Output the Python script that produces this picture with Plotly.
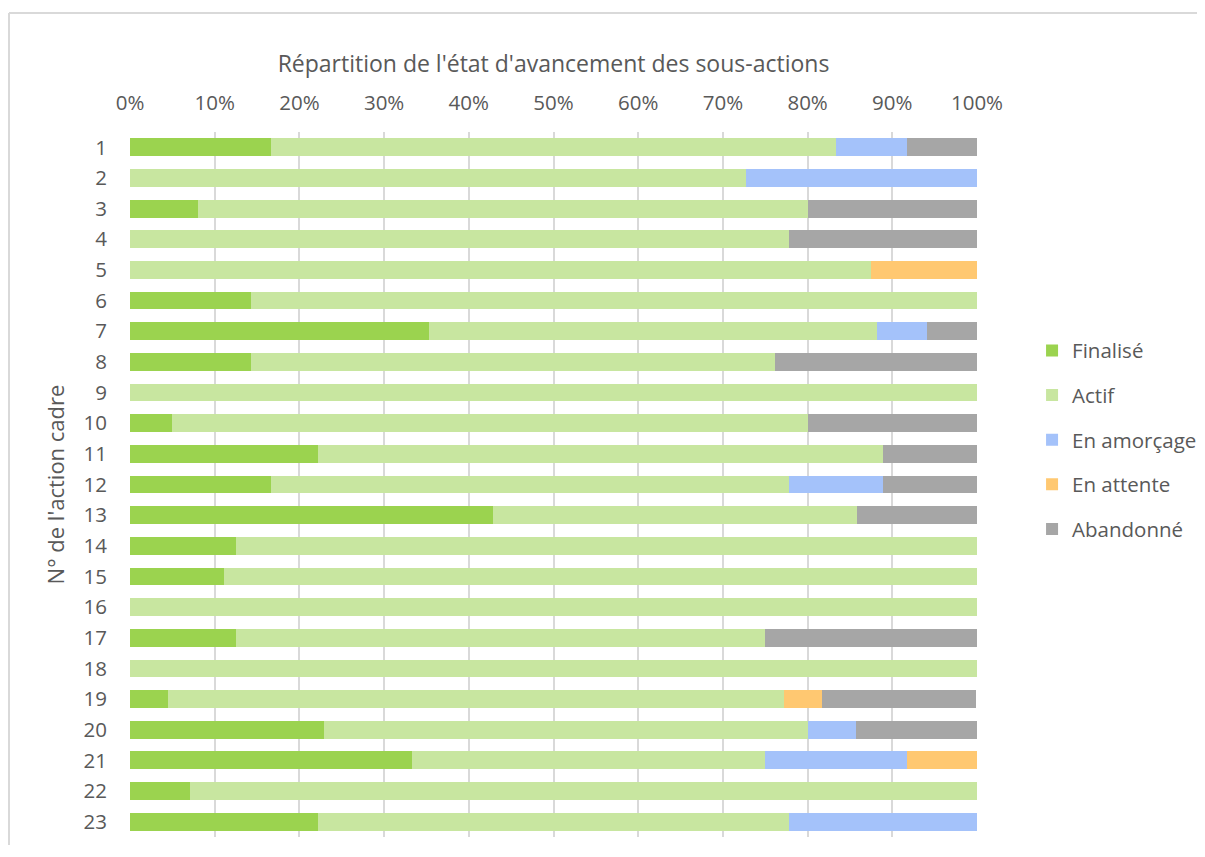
import plotly.graph_objects as go

# N° de l'action cadre
actions = [str(i) for i in range(1, 24)]

# part de chaque état (%)
finalise = [16.7, 0, 8.0, 0, 0, 14.3, 35.3, 14.3, 0, 5.0, 22.2, 16.7, 42.9,
            12.5, 11.1, 0, 12.5, 0, 4.5, 22.9, 33.3, 7.1, 22.2]
actif = [66.7, 72.7, 72.0, 77.8, 87.5, 85.7, 52.9, 61.9, 100, 75.0, 66.7, 61.1, 42.9,
         87.5, 88.9, 100, 62.5, 100, 72.7, 57.1, 41.7, 92.9, 55.6]
amorcage = [8.3, 27.3, 0, 0, 0, 0, 5.9, 0, 0, 0, 0, 11.1, 0,
            0, 0, 0, 0, 0, 0, 5.7, 16.7, 0, 22.2]
attente = [0, 0, 0, 0, 12.5, 0, 0, 0, 0, 0, 0, 0, 0,
           0, 0, 0, 0, 0, 4.5, 0, 8.3, 0, 0]
abandonne = [8.3, 0, 20.0, 22.2, 0, 0, 5.9, 23.8, 0, 20.0, 11.1, 11.1, 14.3,
             0, 0, 0, 25.0, 0, 18.2, 14.3, 0, 0, 0]

series = [
    ("Finalisé", finalise, "#9BD34F"),
    ("Actif", actif, "#C8E6A0"),
    ("En amorçage", amorcage, "#A4C2FA"),
    ("En attente", attente, "#FFC871"),
    ("Abandonné", abandonne, "#A6A6A6"),
]

FONT = "Open Sans"
GREY = "#595959"

# the page body adds 8px around the figure, so the figure is a bit smaller
W, H = 1189, 837
L, T, R, B = 122, 124, 220, 8
PW, PH = W - L - R, H - T - B

fig = go.Figure()
for name, vals, col in series:
    fig.add_trace(go.Bar(
        y=actions, x=vals, name=name, orientation="h",
        marker=dict(color=col, line=dict(width=0)),
        legendgroup=name, hoverinfo="name+x",
    ))

# chart frame: only the left and top edges are visible in the original
bx = (1 - L) / PW
by = 1 + (T - 5) / PH
frame = dict(color="#D9D9D9", width=2)

fig.update_layout(
    width=W, height=H,
    barmode="stack", bargap=0.42,
    paper_bgcolor="white", plot_bgcolor="white",
    font=dict(family=FONT, size=20, color=GREY),
    margin=dict(l=L, r=R, t=T, b=B, autoexpand=False),
    title=dict(text="Répartition de l'état d'avancement des sous-actions",
               x=0.5, xref="paper", xanchor="center",
               y=1 - 56 / H, yanchor="middle",
               font=dict(family=FONT, size=23, color=GREY)),
    legend=dict(x=1.065, xanchor="left", y=0.563, yanchor="middle",
                traceorder="grouped", tracegroupgap=15,
                font=dict(size=20.5, color=GREY), bgcolor="rgba(0,0,0,0)"),
    shapes=[
        dict(type="line", xref="paper", yref="paper",
             x0=bx, x1=bx, y0=-B / PH, y1=by, line=frame, layer="below"),
        dict(type="line", xref="paper", yref="paper",
             x0=bx, x1=1 + R / PW, y0=by, y1=by, line=frame, layer="below"),
    ],
)

fig.update_xaxes(
    side="top", range=[0, 100], dtick=10, ticksuffix="%",
    showgrid=True, gridcolor="#D9D9D9", gridwidth=1.5,
    zeroline=False, showline=False, ticks="", ticklabelstandoff=17,
    tickfont=dict(size=20.5, color=GREY),
)
fig.update_yaxes(
    type="category", autorange="reversed",
    showgrid=False, zeroline=False, showline=False,
    ticks="", ticklabelstandoff=22,
    tickfont=dict(size=20.5, color=GREY),
    title=dict(text="N° de l'action cadre", standoff=12,
               font=dict(size=22, color=GREY)),
)

fig.write_html("out.html")
